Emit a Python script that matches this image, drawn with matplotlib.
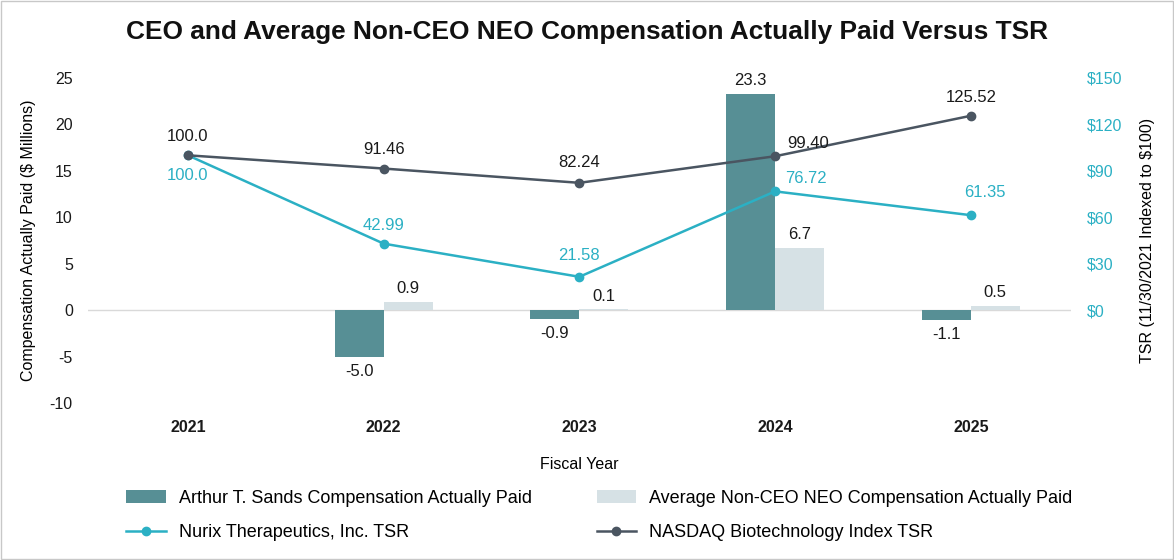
import numpy as np
import matplotlib.pyplot as plt
from matplotlib.patches import Rectangle

plt.rcParams['font.family'] = ['Liberation Sans', 'DejaVu Sans']
plt.rcParams['axes.unicode_minus'] = False

years = ['2021', '2022', '2023', '2024', '2025']
ceo_cap = [np.nan, -5.0, -0.9, 23.3, -1.1]
neo_cap = [np.nan, 0.9, 0.1, 6.7, 0.5]
nurix_tsr = [100.0, 42.99, 21.58, 76.72, 61.35]
nasdaq_tsr = [100.0, 91.46, 82.24, 99.40, 125.52]
nurix_lbl = ['100.0', '42.99', '21.58', '76.72', '61.35']
nasdaq_lbl = ['100.0', '91.46', '82.24', '99.40', '125.52']

c_ceo = '#578f95'
c_neo = '#d6e1e5'
c_nurix = '#2bb0c4'
c_nasdaq = '#4a5561'

fig = plt.figure(figsize=(11.74, 5.6), dpi=100)
ax = fig.add_axes([0.075, 0.28, 0.837, 0.581])
ax2 = ax.twinx()

x = np.arange(len(years))
w = 0.25
b1 = ax.bar(x - w / 2, ceo_cap, w, color=c_ceo, label='Arthur T. Sands Compensation Actually Paid')
b2 = ax.bar(x + w / 2, neo_cap, w, color=c_neo, label='Average Non-CEO NEO Compensation Actually Paid')

# bar value labels
for xs, vals in [(x - w / 2, ceo_cap), (x + w / 2, neo_cap)]:
    for xi, v in zip(xs, vals):
        if np.isnan(v):
            continue
        off = 4 if v >= 0 else -5
        ax.annotate('%.1f' % v, (xi, v), xytext=(0, off), textcoords='offset points',
                    ha='center', va='bottom' if v >= 0 else 'top', fontsize=12, color='#1a1a1a')

l1, = ax2.plot(x, nurix_tsr, color=c_nurix, lw=1.8, marker='o', ms=6,
               label='Nurix Therapeutics, Inc. TSR')
l2, = ax2.plot(x, nasdaq_tsr, color=c_nasdaq, lw=1.8, marker='o', ms=6,
               label='NASDAQ Biotechnology Index TSR')

nurix_off = [(0, -9), (0, 8), (0, 10), (22, 4), (10, 11)]
nasdaq_off = [(0, 8), (0, 8), (0, 9), (24, 4), (0, 8)]
for i in range(len(years)):
    dx, dy = nurix_off[i]
    ax2.annotate(nurix_lbl[i], (x[i], nurix_tsr[i]), xytext=(dx, dy), textcoords='offset points',
                 ha='center', va='top' if dy < 0 else 'bottom', fontsize=12, color=c_nurix)
    dx, dy = nasdaq_off[i]
    ax2.annotate(nasdaq_lbl[i], (x[i], nasdaq_tsr[i]), xytext=(dx, dy), textcoords='offset points',
                 ha='center', va='bottom', fontsize=12, color='#1a1a1a')

ax.set_xlim(-0.51, 4.51)
ax.set_ylim(-10, 25)
ax2.set_ylim(-60, 150)
ax.set_yticks(range(-10, 26, 5))
ax2.set_yticks(range(0, 151, 30))
ax2.set_yticklabels(['$%d' % t for t in range(0, 151, 30)])
ax.axhline(0, color='#d9d9d9', lw=1, zorder=0)

ax.set_xticks(x)
ax.set_xticklabels(years, fontweight='bold')
for a in (ax, ax2):
    for s in a.spines.values():
        s.set_visible(False)
ax.tick_params(axis='both', length=0, labelsize=11.5, colors='#1a1a1a')
ax.tick_params(axis='y', pad=11)
ax.tick_params(axis='x', pad=12)
ax2.tick_params(axis='y', length=0, labelsize=11.5, colors=c_nurix, pad=12)

ax.set_xlabel('Fiscal Year', fontsize=11.5, labelpad=16)
ax.set_ylabel('Compensation Actually Paid ($ Millions)', fontsize=11.5, labelpad=10)
ax2.set_ylabel('TSR (11/30/2021 Indexed to $100)', fontsize=11.5, labelpad=12)

fig.suptitle('CEO and Average Non-CEO NEO Compensation Actually Paid Versus TSR',
             fontsize=18.9, fontweight='bold', y=0.965, color='#111111')

fig.legend([b1, l1, b2, l2], [b1.get_label(), l1.get_label(), b2.get_label(), l2.get_label()],
           ncol=2, loc='center left', bbox_to_anchor=(0.1075, 0.0795), frameon=False,
           prop={'size': 13}, handlelength=2.2, handletextpad=0.7, columnspacing=3.6,
           labelspacing=0.95, borderpad=0, borderaxespad=0)

fig.patches.append(Rectangle((0.001, 0.001), 0.998, 0.997, transform=fig.transFigure,
                             fill=False, edgecolor='#c8c8c8', lw=1))

fig.savefig('out.png', dpi=100)
